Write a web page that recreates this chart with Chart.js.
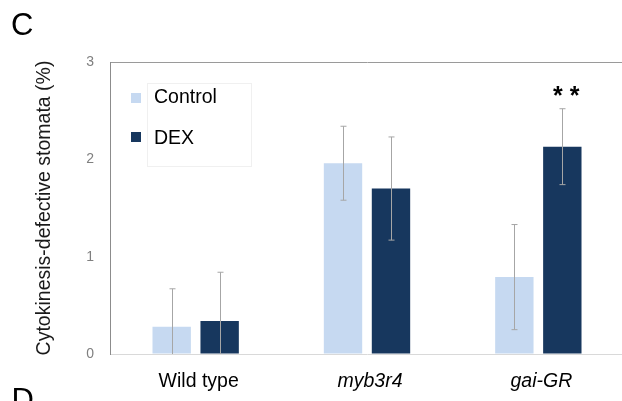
<!DOCTYPE html>
<html>
<head>
  <title>Cytokinesis-defective stomata</title>
  <script src="https://cdn.jsdelivr.net/npm/chart.js"></script>
  <style>
    body { margin: 0; padding: 0; background: #fff; overflow: hidden; }
    /* canvas is a little wider than the window: the plot frame runs off the right edge */
    .chart-box { position: absolute; left: 0; top: 0; width: 630px; height: 401px; }
  </style>
</head>
<body>
  <div class="chart-box"><canvas id="chart"></canvas></div>
  <script>
    // --- data ---
    const categories = ['Wild type', 'myb3r4', 'gai-GR'];
    const controlMean = [0.28, 1.96, 0.79];
    const controlErr  = [0.39, 0.38, 0.54];
    const dexMean     = [0.34, 1.70, 2.13];
    const dexErr      = [0.50, 0.53, 0.39];
    const significance = ['', '', '* *'];   // marks over the DEX bars
    const yTicks = [0, 1, 2, 3];

    const FONT = '"Liberation Sans", Arial, sans-serif';
    const errs = [controlErr, dexErr];

    // error bars (clipped at zero) + significance marks
    const errorBars = {
      id: 'errorBars',
      afterDatasetsDraw(chart) {
        const ctx = chart.ctx, y = chart.scales.y, area = chart.chartArea;
        ctx.save();
        ctx.strokeStyle = '#a6a6a6';
        ctx.lineWidth = 1;
        chart.data.datasets.forEach((ds, d) => {
          chart.getDatasetMeta(d).data.forEach((bar, i) => {
            const v = ds.data[i], e = errs[d][i];
            const x = Math.round(bar.x) + 0.5;
            const top = y.getPixelForValue(v + e);
            const bot = Math.min(y.getPixelForValue(v - e), area.bottom);
            ctx.beginPath();
            ctx.moveTo(x, top); ctx.lineTo(x, bot);
            ctx.moveTo(x - 3, top); ctx.lineTo(x + 3, top);
            if (v - e > 0) { ctx.moveTo(x - 3, bot); ctx.lineTo(x + 3, bot); }
            ctx.stroke();
          });
        });
        // significance stars over DEX
        const meta = chart.getDatasetMeta(1);
        ctx.fillStyle = '#000';
        ctx.font = 'bold 25px ' + FONT;
        ctx.textAlign = 'center';
        ctx.textBaseline = 'alphabetic';
        significance.forEach((s, i) => {
          if (!s) return;
          const top = y.getPixelForValue(dexMean[i] + dexErr[i]);
          ctx.fillText(s, meta.data[i].x + 4, top - 5);
        });
        ctx.restore();
      }
    };

    // legend inside the plot, plus panel letters
    const decor = {
      id: 'decor',
      afterDraw(chart) {
        const ctx = chart.ctx, a = chart.chartArea;
        ctx.save();
        ctx.strokeStyle = '#f0f0f0';
        ctx.lineWidth = 1;
        ctx.strokeRect(a.left + 37.5, a.top + 21.5, 104, 83);
        ctx.font = '19.5px ' + FONT;
        ctx.textBaseline = 'middle';
        ctx.textAlign = 'left';
        chart.data.datasets.forEach((ds, i) => {
          const cy = a.top + 36 + i * 39;
          ctx.fillStyle = ds.backgroundColor;
          ctx.fillRect(a.left + 21, cy - 5, 10, 10);
          ctx.fillStyle = '#000';
          ctx.fillText(ds.label, a.left + 44, cy + (i ? 2 : 0));
        });
        // panel letters
        ctx.font = '31px ' + FONT;
        ctx.textBaseline = 'alphabetic';
        ctx.fillText('C', 11, 35);
        ctx.fillText('D', 11.5, 410);
        ctx.restore();
      }
    };

    new Chart(document.getElementById('chart'), {
      type: 'bar',
      data: {
        labels: categories,
        datasets: [
          { label: 'Control', data: controlMean, backgroundColor: '#c6d9f1' },
          { label: 'DEX', data: dexMean, backgroundColor: '#17375e' }
        ]
      },
      options: {
        responsive: true,
        maintainAspectRatio: false,
        animation: false,
        categoryPercentage: 0.56,
        barPercentage: 0.8,
        layout: { padding: { left: 0, right: 6, top: 62, bottom: 0 } },
        plugins: { legend: { display: false }, tooltip: { enabled: false } },
        scales: {
          x: {
            grid: { display: false, drawTicks: false },
            border: { display: true, color: '#d9d9d9', width: 1 },
            ticks: {
              color: '#000',
              padding: 16,
              labelOffset: 3,
              font: c => ({ family: FONT, size: 19.5, style: c.index > 0 ? 'italic' : 'normal' })
            },
            afterFit(s) { s.height = 47; }
          },
          y: {
            min: 0,
            max: 3,
            afterBuildTicks(s) { s.ticks = yTicks.map(v => ({ value: v })); },
            grid: {
              drawTicks: false,
              color: c => (c.tick && c.tick.value === 3 ? '#9a9a9a' : 'rgba(0,0,0,0)')
            },
            border: { display: true, color: '#8c8c8c', width: 1 },
            ticks: { color: '#7f7f7f', padding: 16, font: { family: FONT, size: 14 } },
            title: {
              display: true,
              text: 'Cytokinesis-defective stomata (%)',
              color: '#1a1a1a',
              font: { family: FONT, size: 19.5 },
              padding: { top: 33, bottom: 0 }
            },
            afterFit(s) { s.width = 110; }
          }
        }
      },
      plugins: [errorBars, decor]
    });
  </script>
</body>
</html>
